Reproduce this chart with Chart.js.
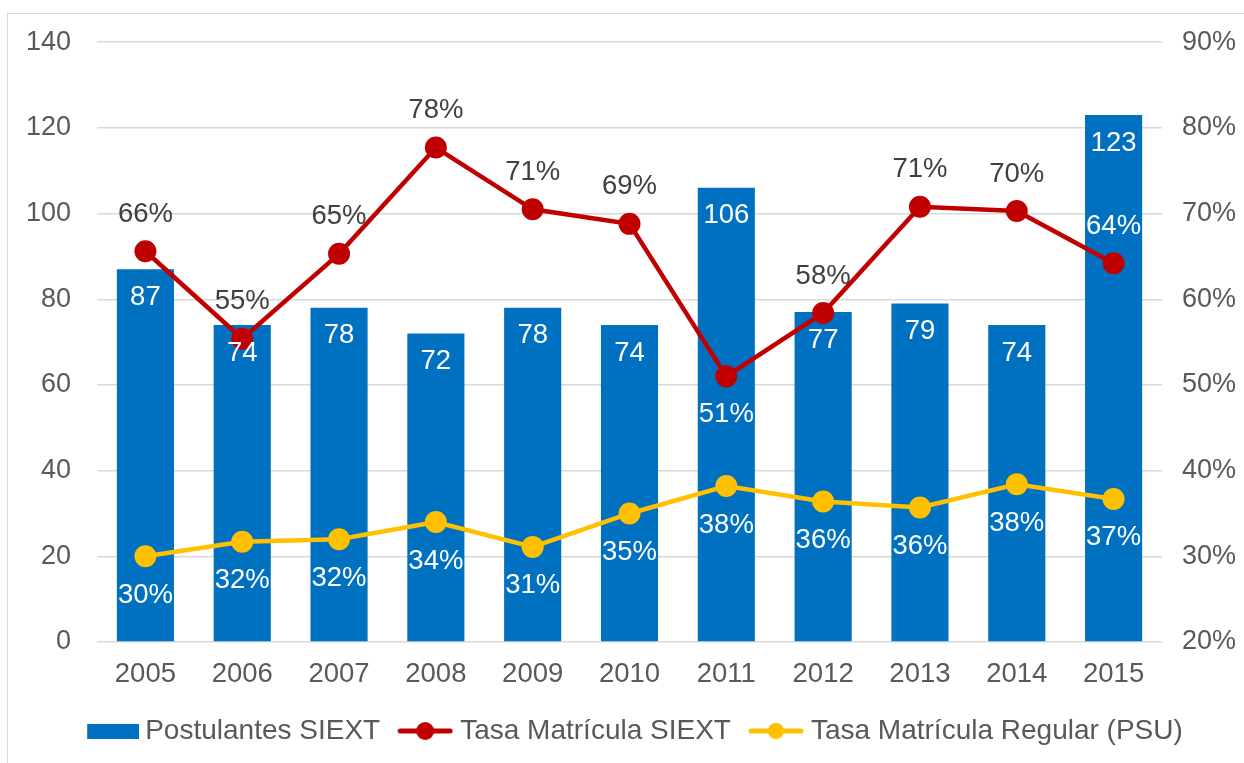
<!DOCTYPE html>
<html>
<head>
<meta charset="utf-8">
<script src="https://cdn.jsdelivr.net/npm/chart.js@4.4.1/dist/chart.umd.min.js"></script>
<style>
  html, body { margin: 0; padding: 0; background: #fff; overflow: hidden; }
  #frame { position: absolute; left: 7px; top: 13px; width: 1300px; height: 800px; border: 1px solid #d9d9d9; }
  #chart { position: absolute; left: 0; top: 0; }
</style>
</head>
<body>
<div id="frame"></div>
<canvas id="chart" width="1244" height="763"></canvas>
<script>
const years = ["2005", "2006", "2007", "2008", "2009", "2010", "2011", "2012", "2013", "2014", "2015"];
const postulantes = [87, 74, 78, 72, 78, 74, 106, 77, 79, 74, 123];
const tasaSiext = [65.6, 55.4, 65.3, 77.7, 70.5, 68.8, 51.0, 58.4, 70.8, 70.3, 64.2];
const tasaRegular = [30.0, 31.7, 32.0, 34.0, 31.1, 35.0, 38.2, 36.4, 35.7, 38.4, 36.7];

const BLUE = "#0070C0";
const RED = "#C00000";
const YELLOW = "#FFC000";
const TEXT = "#595959";
const LABEL = "#404040";
const FONT = '"Liberation Sans", Arial, sans-serif';

// where each label sits relative to its point (label styling, not data)
const siextLabelPos = ["up", "up", "up", "up", "up", "up", "down", "up", "up", "up", "up"];
const siextLabelColor = [LABEL, LABEL, LABEL, LABEL, LABEL, LABEL, "#fff", LABEL, LABEL, LABEL, "#fff"];

// small canvases used as legend symbols
function barIcon() {
  const c = document.createElement("canvas");
  c.width = 58; c.height = 15;
  const g = c.getContext("2d");
  g.fillStyle = BLUE;
  g.fillRect(6, 0, 52, 15);
  return c;
}
function lineIcon(color, r) {
  const c = document.createElement("canvas");
  c.width = 56; c.height = 20;
  const g = c.getContext("2d");
  g.strokeStyle = color;
  g.lineWidth = 5;
  g.lineCap = "round";
  g.beginPath();
  g.moveTo(3, 10); g.lineTo(53, 10);
  g.stroke();
  g.fillStyle = color;
  g.beginPath();
  g.arc(28, 10, r, 0, Math.PI * 2);
  g.fill();
  return c;
}
const icons = [barIcon(), lineIcon(RED, 9), lineIcon(YELLOW, 8)];

const valueLabels = {
  id: "valueLabels",
  afterLayout(chart) {
    // legend sits a bit right of the canvas centre in the original
    chart.legend.left += 14;
    chart.legend.right += 14;
  },
  afterDatasetsDraw(chart) {
    const ctx = chart.ctx;
    ctx.save();
    ctx.font = "27.5px " + FONT;
    ctx.textAlign = "center";
    ctx.textBaseline = "middle";
    chart.data.datasets.forEach((ds, di) => {
      const meta = chart.getDatasetMeta(di);
      meta.data.forEach((el, i) => {
        const v = ds.data[i];
        if (di === 0) {
          ctx.fillStyle = "#fff";
          ctx.fillText(String(v), el.x, el.y + 28);
        } else if (di === 1) {
          ctx.fillStyle = siextLabelColor[i];
          const dy = siextLabelPos[i] === "up" ? -37 : 38;
          ctx.fillText(Math.round(v) + "%", el.x, el.y + dy);
        } else {
          ctx.fillStyle = "#fff";
          ctx.fillText(Math.round(v) + "%", el.x, el.y + 39);
        }
      });
    });
    ctx.restore();
  }
};

const ctx = document.getElementById("chart").getContext("2d");
new Chart(ctx, {
  data: {
    labels: years,
    datasets: [
      {
        type: "bar",
        label: "Postulantes SIEXT",
        data: postulantes,
        backgroundColor: BLUE,
        barPercentage: 0.59,
        categoryPercentage: 1,
        yAxisID: "y",
        order: 1
      },
      {
        type: "line",
        label: "Tasa Matrícula SIEXT",
        data: tasaSiext,
        borderColor: RED,
        backgroundColor: RED,
        borderWidth: 4.5,
        pointRadius: 10,
        pointBorderWidth: 2,
        pointBorderColor: RED,
        pointBackgroundColor: RED,
        tension: 0,
        yAxisID: "y1",
        order: 0
      },
      {
        type: "line",
        label: "Tasa Matrícula Regular (PSU)",
        data: tasaRegular,
        borderColor: YELLOW,
        backgroundColor: YELLOW,
        borderWidth: 4.5,
        pointRadius: 10,
        pointBorderWidth: 2,
        pointBorderColor: YELLOW,
        pointBackgroundColor: YELLOW,
        tension: 0,
        yAxisID: "y1",
        order: 0
      }
    ]
  },
  options: {
    responsive: false,
    animation: false,
    devicePixelRatio: 1,
    layout: { padding: { top: 42, left: 0, right: 0, bottom: 8 } },
    plugins: {
      tooltip: { enabled: false },
      legend: {
        position: "bottom",
        labels: {
          usePointStyle: true,
          pointStyleWidth: 42,
          padding: 24,
          color: TEXT,
          font: { size: 28, family: FONT },
          sort: (a, b) => a.datasetIndex - b.datasetIndex,
          generateLabels(chart) {
            const items = Chart.defaults.plugins.legend.labels.generateLabels(chart);
            items.forEach((it) => { it.pointStyle = icons[it.datasetIndex]; });
            return items;
          }
        }
      }
    },
    scales: {
      x: {
        grid: { display: false, drawTicks: false },
        border: { display: false },
        ticks: { color: TEXT, font: { size: 27.5, family: FONT }, padding: 16 },
        afterFit(scale) { scale.height = 51; }
      },
      y: {
        position: "left",
        min: 0,
        max: 140,
        ticks: { stepSize: 20, color: TEXT, font: { size: 27, family: FONT }, padding: 26 },
        grid: { color: "#d9d9d9", lineWidth: 1.5, drawTicks: false },
        border: { display: false },
        afterFit(scale) { scale.width = 97; }
      },
      y1: {
        position: "right",
        min: 20,
        max: 90,
        ticks: {
          stepSize: 10,
          color: TEXT,
          font: { size: 27, family: FONT },
          padding: 20,
          callback: (v) => v + "%"
        },
        grid: { display: false, drawTicks: false },
        border: { display: false },
        afterFit(scale) { scale.width = 82; }
      }
    }
  },
  plugins: [valueLabels]
});
</script>
</body>
</html>
